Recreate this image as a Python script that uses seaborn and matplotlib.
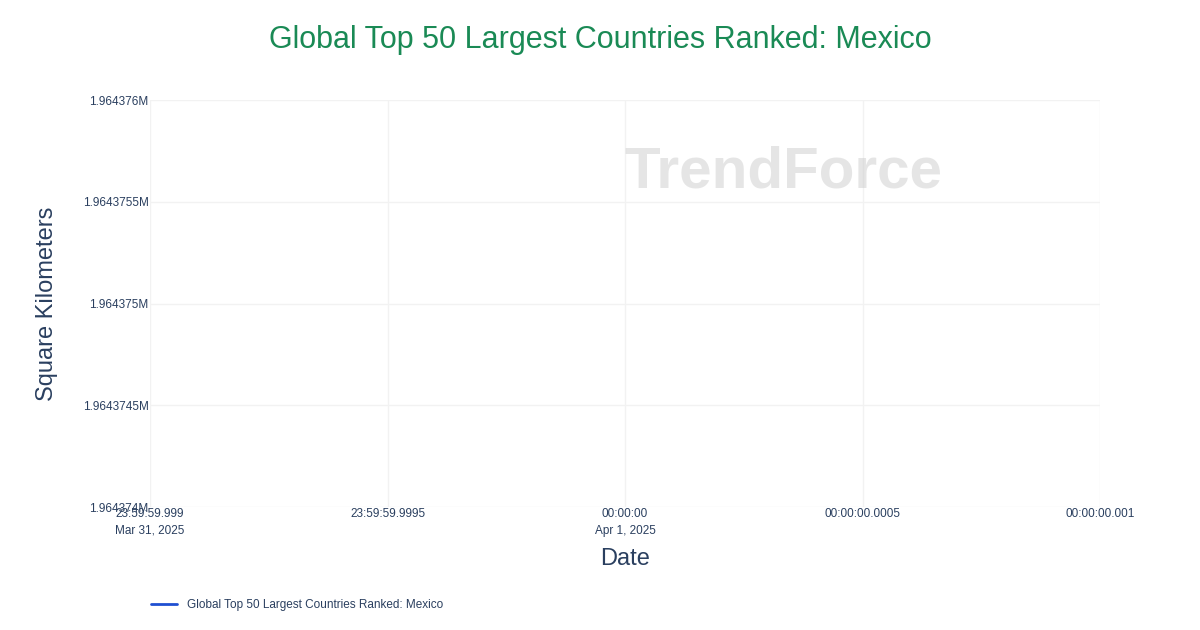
import matplotlib
matplotlib.use("Agg")
import matplotlib.pyplot as plt
import seaborn as sns
import pandas as pd
import numpy as np

dates = ["2025-04-01 00:00:00"]
values = [1964375]
series_name = "Global Top 50 Largest Countries Ranked: Mexico"
x_ticks_ms = [-1.0, -0.5, 0.0, 0.5, 1.0]
x_tick_labels = ["23:59:59.999\nMar 31, 2025", "23:59:59.9995", "00:00:00\nApr 1, 2025",
                 "00:00:00.0005", "00:00:00.001"]
y_ticks = [1964374, 1964374.5, 1964375, 1964375.5, 1964376]
y_tick_labels = ["1.964374M", "1.9643745M", "1.964375M", "1.9643755M", "1.964376M"]

sns.set_theme(style="white")
plt.rcParams['font.family'] = ['Liberation Sans', 'DejaVu Sans']

base = pd.Timestamp("2025-04-01 00:00:00")
df = pd.DataFrame({"ms": [(pd.Timestamp(d) - base).total_seconds() * 1000 for d in dates],
                   "value": values})

fig = plt.figure(figsize=(12, 6.3), dpi=100)
ax = fig.add_axes([0.125, 0.1952, 0.7917, 0.646])
sns.lineplot(data=df, x="ms", y="value", ax=ax, color="#1f4fd1", lw=2, label=series_name)

ax.set_xlim(-1.0, 1.0)
ax.set_ylim(1964374, 1964376)
ax.set_xticks(x_ticks_ms)
ax.set_xticklabels(x_tick_labels, fontsize=8.5, color="#2a3f5f", linespacing=1.5)
ax.set_yticks(y_ticks)
ax.set_yticklabels(y_tick_labels, fontsize=8.5, color="#2a3f5f")
ax.tick_params(length=0, pad=1)
ax.grid(True, color="#f2f2f2", lw=1)
for s in ax.spines.values():
    s.set_visible(False)
ax.set_xlabel("Date", fontsize=17, color="#2a3f5f", labelpad=8)
ax.set_ylabel("Square Kilometers", fontsize=17, color="#2a3f5f", labelpad=18)

fig.text(0.5, 0.937, series_name, ha="center", va="center", fontsize=22, color="#1a8a55")
fig.text(0.52, 0.726, "TrendForce", ha="left", va="center", fontsize=42, fontweight="bold",
         color="#cccccc", alpha=0.5)

leg = ax.legend(loc="upper left", bbox_to_anchor=(-0.01, -0.2), frameon=False, fontsize=8.5,
                handlelength=2.2)
for t in leg.get_texts():
    t.set_color("#2a3f5f")

fig.savefig("out.png", dpi=100, facecolor="white")
